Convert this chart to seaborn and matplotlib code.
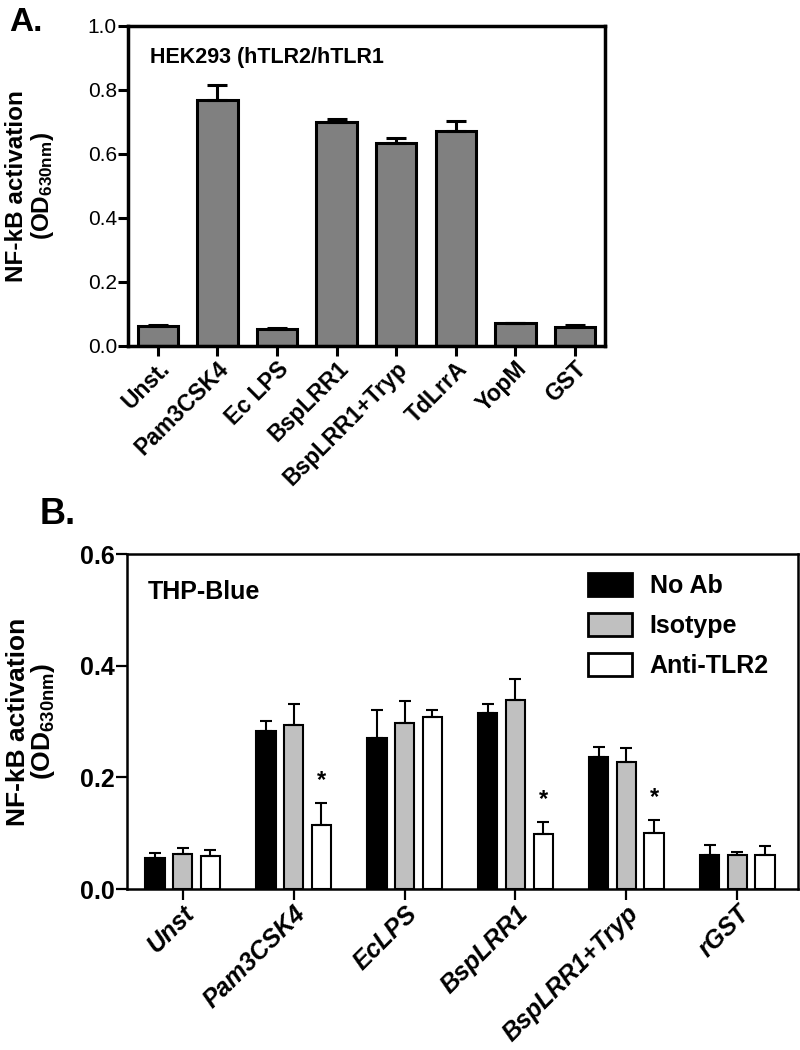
import numpy as np
import pandas as pd
import matplotlib
matplotlib.use('Agg')
import matplotlib.pyplot as plt
import seaborn as sns

# valores
cats_a = ['Unst.', 'Pam3CSK4', 'Ec LPS', 'BspLRR1', 'BspLRR1+Tryp', 'TdLrrA', 'YopM', 'GST']
vals_a = [0.063, 0.768, 0.054, 0.700, 0.634, 0.672, 0.071, 0.059]
err_a = [0.002, 0.049, 0.001, 0.008, 0.017, 0.031, 0.001, 0.005]

cats_b = ['Unst', 'Pam3CSK4', 'EcLPS', 'BspLRR1', 'BspLRR1+Tryp', 'rGST']
groups_b = ['No Ab', 'Isotype', 'Anti-TLR2']
no_ab = [0.056, 0.283, 0.271, 0.315, 0.236, 0.061]
no_ab_err = [0.008, 0.018, 0.050, 0.017, 0.018, 0.017]
isotype = [0.063, 0.294, 0.297, 0.338, 0.227, 0.061]
isotype_err = [0.011, 0.037, 0.039, 0.038, 0.025, 0.005]
anti = [0.059, 0.115, 0.309, 0.099, 0.101, 0.061]
anti_err = [0.011, 0.039, 0.011, 0.021, 0.023, 0.016]
anti_sig = ['', '*', '', '*', '*', '']

sns.set_style('ticks')
plt.rcParams['font.family'] = ['Liberation Sans', 'DejaVu Sans']
plt.rcParams['mathtext.fontset'] = 'custom'
plt.rcParams['mathtext.rm'] = 'Liberation Sans'
plt.rcParams['mathtext.bf'] = 'Liberation Sans:bold'
for k in ['text.color', 'axes.labelcolor', 'xtick.color', 'ytick.color', 'axes.edgecolor']:
    plt.rcParams[k] = 'black'

fig = plt.figure(figsize=(8, 10.5), dpi=100)

# ---------------- painel A ----------------
df_a = pd.DataFrame({'cond': cats_a, 'od': vals_a, 'err': err_a})
ax1 = fig.add_axes([0.16, 0.6705, 0.596, 0.3048])
sns.barplot(data=df_a, x='cond', y='od', color='#808080', saturation=1,
            edgecolor='black', linewidth=2.2, width=0.68, errorbar=None, ax=ax1)
xs = [p.get_x() + p.get_width() / 2 for p in ax1.patches]
ax1.errorbar(xs, df_a['od'], yerr=[np.zeros(len(df_a)), df_a['err']], fmt='none',
             ecolor='black', elinewidth=2.2, capsize=7.5, capthick=2.2, zorder=1)
ax1.set_ylim(0, 1.0)
ax1.set_xlim(-0.5, len(cats_a) - 0.5)
ax1.set_yticks(np.arange(0, 1.01, 0.2))
ax1.set_yticklabels([f'{v:.1f}' for v in np.arange(0, 1.01, 0.2)], fontsize=15)
ax1.set_xlabel('')
ax1.set_ylabel('NF-kB activation\n' + r'$\mathbf{(OD_{630nm})}$', fontsize=17.5, fontweight='bold',
               linespacing=1.05)
ax1.yaxis.set_label_coords(-0.15, 0.5)
for s in ax1.spines.values():
    s.set_linewidth(2.5)
ax1.tick_params(axis='both', length=7, width=2.2, pad=1, color='black')
plt.setp(ax1.get_xticklabels(), rotation=45, ha='right', rotation_mode='anchor',
         fontsize=16.5, fontweight='bold')
ax1.text(0.046, 0.934, 'HEK293 (hTLR2/hTLR1', transform=ax1.transAxes, fontsize=15.5,
         fontweight='bold', va='top', ha='left')
fig.text(0.012, 0.993, 'A.', fontsize=24, fontweight='bold', va='top', ha='left')

# ---------------- painel B ----------------
df_b = pd.DataFrame({
    'cond': cats_b * 3,
    'grupo': np.repeat(groups_b, len(cats_b)),
    'od': no_ab + isotype + anti,
    'err': no_ab_err + isotype_err + anti_err,
})
ax2 = fig.add_axes([0.159, 0.1533, 0.839, 0.319])
sns.barplot(data=df_b, x='cond', y='od', hue='grupo', hue_order=groups_b,
            palette=['black', '#c0c0c0', 'white'], saturation=1, edgecolor='black',
            linewidth=1.5, width=0.75, gap=0.3, errorbar=None, legend=False, ax=ax2)
for cont, g in zip(ax2.containers, groups_b):
    sub = df_b[df_b['grupo'] == g]
    cx = [b.get_x() + b.get_width() / 2 for b in cont]
    ax2.errorbar(cx, sub['od'], yerr=[np.zeros(len(sub)), sub['err']], fmt='none',
                 ecolor='black', elinewidth=1.5, capsize=4.5, capthick=1.5, zorder=1)
    if g == 'Anti-TLR2':
        for x0, y0, e0, s in zip(cx, sub['od'], sub['err'], anti_sig):
            if s:
                ax2.text(x0, y0 + e0 + 0.02, s, ha='center', va='bottom',
                         fontsize=17, fontweight='bold')

ax2.set_ylim(0, 0.6)
ax2.set_xlim(-0.5, len(cats_b) - 0.45)
ax2.set_yticks([0, 0.2, 0.4, 0.6])
ax2.set_yticklabels(['0.0', '0.2', '0.4', '0.6'], fontsize=18, fontweight='bold')
ax2.set_xlabel('')
ax2.set_ylabel('NF-kB activation\n' + r'$\mathbf{(OD_{630nm})}$', fontsize=19, fontweight='bold',
               linespacing=0.95)
ax2.yaxis.set_label_coords(-0.104, 0.5)
for s in ax2.spines.values():
    s.set_linewidth(1.8)
ax2.tick_params(axis='both', length=8, width=1.6, pad=1, color='black')
plt.setp(ax2.get_xticklabels(), rotation=45, ha='right', rotation_mode='anchor',
         fontsize=18, fontweight='bold', style='italic')
ax2.text(0.031, 0.922, 'THP-Blue', transform=ax2.transAxes, fontsize=18,
         fontweight='bold', va='top', ha='left')

handles = [plt.Rectangle((0, 0), 1, 1, facecolor=c, edgecolor='black', linewidth=2)
           for c in ['black', '#c0c0c0', 'white']]
ax2.legend(handles, groups_b, loc='upper left', bbox_to_anchor=(0.687, 0.945),
           frameon=False, prop={'weight': 'bold', 'size': 18},
           handlelength=1.75, handleheight=1.05, handletextpad=0.7,
           labelspacing=0.6, borderpad=0, borderaxespad=0)
fig.text(0.05, 0.527, 'B.', fontsize=26, fontweight='bold', va='top', ha='left')

fig.savefig('out.png', dpi=100)
